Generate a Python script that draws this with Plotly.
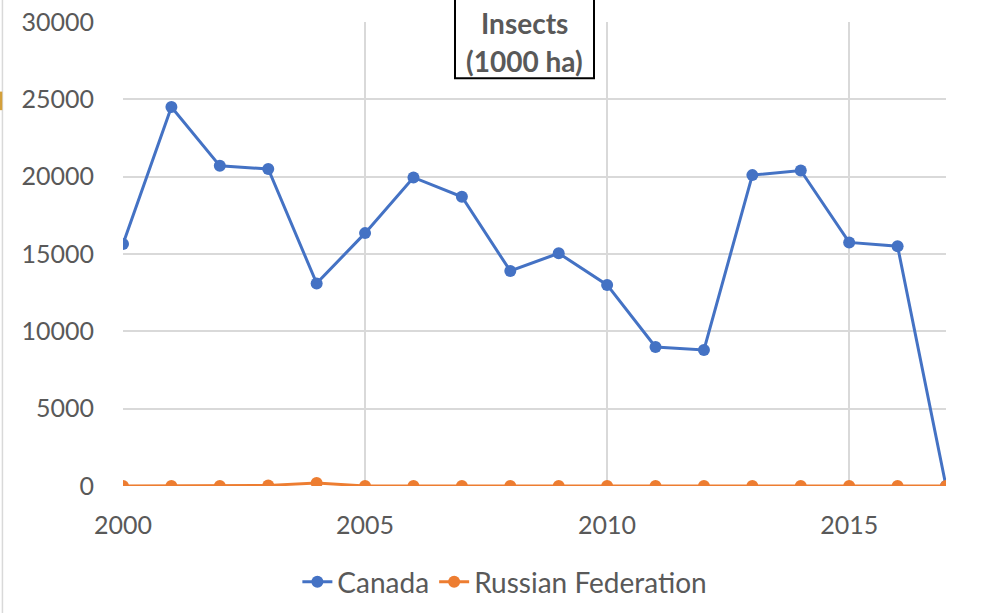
import plotly.graph_objects as go

# Daten (1000 ha)
years = list(range(2000, 2018))
canada = [15650, 24500, 20700, 20500, 13100, 16350, 19950, 18700, 13900, 15050,
          13000, 8990, 8800, 20100, 20400, 15750, 15500, 0]
russia = [0, 0, 0, 40, 200, 0, 0, 0, 0, 0, 0, 0, 0, 0, 0, 0, 0, 0]

y_ticks = [0, 5000, 10000, 15000, 20000, 25000, 30000]
x_ticks = [2000, 2005, 2010, 2015]

font_gray = "#595959"
grid_gray = "#d9d9d9"

fig = go.Figure()
fig.add_trace(go.Scatter(x=years, y=canada, name="Canada", mode="lines+markers",
                         line=dict(color="#4472C4", width=3),
                         marker=dict(size=12, color="#4472C4")))
fig.add_trace(go.Scatter(x=years, y=russia, name="Russian Federation", mode="lines+markers",
                         line=dict(color="#ED7D31", width=3),
                         marker=dict(size=12, color="#ED7D31")))

fig.update_layout(
    width=998, height=613,
    margin=dict(l=123, r=52, t=22, b=127, autoexpand=False),
    plot_bgcolor="white", paper_bgcolor="white",
    font=dict(family="Lato, Noto Sans, sans-serif", size=25, color=font_gray),
    showlegend=True,
    legend=dict(orientation="h", x=0.464, xanchor="center",
                y=-0.207, yanchor="middle", font=dict(size=28, color=font_gray)),
)

fig.update_xaxes(range=[2000, 2017], tickvals=x_ticks, tickformat="d", showgrid=True,
                 gridcolor=grid_gray, gridwidth=1.5, zeroline=False,
                 ticks="outside", ticklen=17, tickcolor="rgba(0,0,0,0)",
                 showline=False, ticklabeloverflow="allow")
fig.update_yaxes(range=[0, 30000], tickvals=y_ticks, tickformat="d", showgrid=True,
                 gridcolor=grid_gray, gridwidth=1.5, zeroline=False,
                 ticks="outside", ticklen=23, tickcolor="rgba(0,0,0,0)",
                 showline=False, ticklabeloverflow="allow")

# Titel-Kasten (oben abgeschnitten wie im Original)
fig.add_shape(type="rect", xref="paper", yref="paper", x0=0.4034, x1=0.5723, y0=0.879, y1=1.1,
              line=dict(color="black", width=2), fillcolor="white", layer="above")
fig.add_annotation(text="<b>Insects</b>", xref="paper", yref="paper",
                   x=0.4879, y=0.998, xanchor="center", yanchor="middle",
                   showarrow=False, font=dict(size=28, color=font_gray))
fig.add_annotation(text="<b>(1000 ha)</b>", xref="paper", yref="paper",
                   x=0.4879, y=0.916, xanchor="center", yanchor="middle",
                   showarrow=False, font=dict(size=28, color=font_gray))

# Rand links
fig.add_shape(type="line", xref="paper", yref="paper", x0=-0.1465, x1=-0.1465, y0=-0.29, y1=1.1,
              line=dict(color="#d9d9d9", width=1.5))
fig.add_shape(type="line", xref="paper", yref="paper", x0=-0.1485, x1=-0.1485, y0=0.81, y1=0.85,
              line=dict(color="#d4a03a", width=3))

# kein Seitenrand, keine Modebar
fig.write_html("out.html", config={"displayModeBar": False},
               post_script="document.body.style.margin='0';")
